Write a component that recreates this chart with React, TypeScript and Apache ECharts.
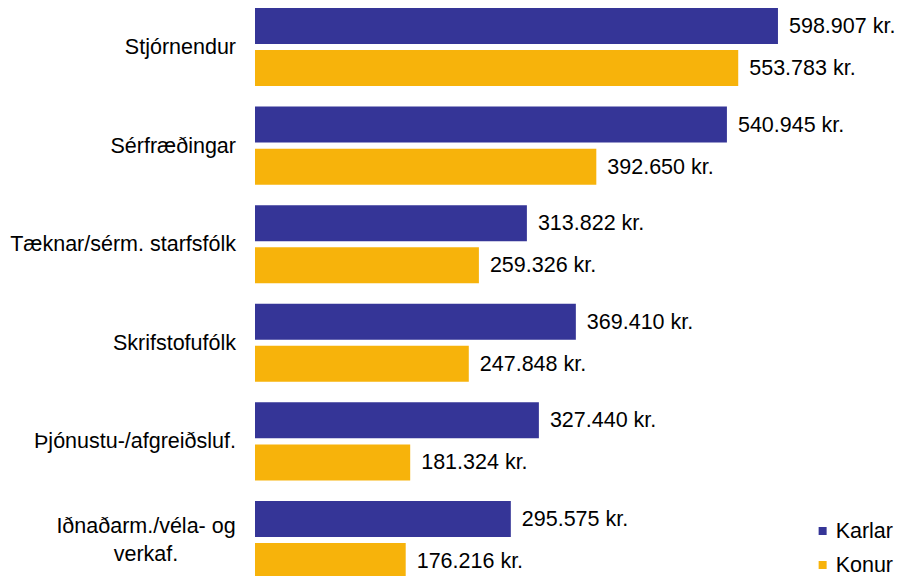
import React, { useEffect, useRef } from "react";
import * as echarts from "echarts";

const categories = [
  "Stjórnendur",
  "Sérfræðingar",
  "Tæknar/sérm. starfsfólk",
  "Skrifstofufólk",
  "Þjónustu-/afgreiðsluf.",
  "Iðnaðarm./véla- og\nverkaf.",
];
const seriesNames = ["Karlar", "Konur"];
const karlar = [598907, 540945, 313822, 369410, 327440, 295575];
const konur = [553783, 392650, 259326, 247848, 181324, 176216];
const colors = ["#353597", "#F7B30B"];

const FONT = "'Liberation Sans', Arial, Helvetica, sans-serif";
const FS = 21.5;
const SHIFT = 13;

function fmt(v: number): string {
  return String(v).replace(/\B(?=(\d{3})+(?!\d))/g, ".") + " kr.";
}

export default function App() {
  const ref = useRef<HTMLDivElement>(null);
  useEffect(() => {
    if (!ref.current) return;
    const chart = echarts.init(ref.current, undefined, { renderer: "svg" });
    const labelCommon = {
      show: true,
      position: "right" as const,
      distance: 11,
      fontSize: FS,
      fontFamily: FONT,
      color: "#000",
      formatter: (p: any) => fmt(p.value),
    };
    chart.setOption({
      animation: false,
      backgroundColor: "#ffffff",
      textStyle: { fontFamily: FONT },
      grid: { left: 255, right: 31, top: SHIFT - 2.3, height: 591.6 },
      xAxis: {
        type: "value",
        min: 5100,
        max: 700000,
        show: false,
        splitLine: { show: false },
      },
      yAxis: {
        type: "category",
        inverse: true,
        data: categories,
        axisLine: { show: false },
        axisTick: { show: false },
        axisLabel: {
          margin: 19,
          fontSize: FS,
          fontFamily: FONT,
          color: "#000",
          lineHeight: 28,
          formatter: (v: string) =>
            v.indexOf("\n") >= 0
              ? v
                  .split("\n")
                  .map((s) => "{c|" + s + "}")
                  .join("\n")
              : v,
          rich: {
            c: {
              width: 180,
              align: "center",
              fontSize: FS,
              fontFamily: FONT,
              color: "#000",
              lineHeight: 28,
            },
          },
        },
      },
      legend: {
        orient: "vertical",
        right: 5,
        top: SHIFT + 520,
        padding: 0,
        itemWidth: 8,
        itemHeight: 8,
        itemGap: 12,
        icon: "rect",
        textStyle: {
          fontSize: FS,
          fontFamily: FONT,
          color: "#000",
          padding: [0, 0, 0, 4],
        },
        data: seriesNames,
      },
      series: [
        {
          name: seriesNames[0],
          type: "bar",
          data: karlar,
          barWidth: 36,
          barGap: "17%",
          itemStyle: { color: colors[0] },
          label: labelCommon,
        },
        {
          name: seriesNames[1],
          type: "bar",
          data: konur,
          barWidth: 36,
          barGap: "17%",
          itemStyle: { color: colors[1] },
          label: labelCommon,
        },
      ],
    });
    return () => chart.dispose();
  }, []);
  return (
    <div
      ref={ref}
      style={{
        position: "absolute",
        left: 0,
        top: -SHIFT,
        width: 898,
        height: 576 + SHIFT + 16,
      }}
    />
  );
}
